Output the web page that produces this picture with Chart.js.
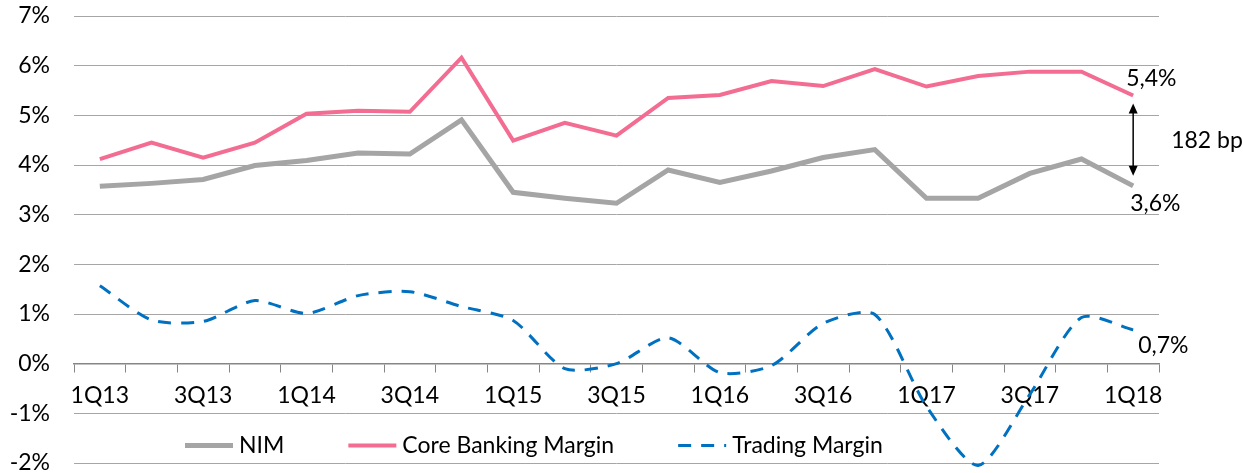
<!DOCTYPE html>
<html>
<head>
<meta charset="utf-8">
<script src="https://cdn.jsdelivr.net/npm/chart.js@4/dist/chart.umd.min.js"></script>
<style>
html, body { margin: 0; padding: 0; background: #fff; }
#wrap { position: relative; width: 1243px; height: 473px; }
</style>
</head>
<body>
<div id="wrap"><canvas id="myChart" width="1243" height="473"></canvas></div>
<script>
var quarters = ['1Q13','2Q13','3Q13','4Q13','1Q14','2Q14','3Q14','4Q14','1Q15','2Q15','3Q15','4Q15',
                '1Q16','2Q16','3Q16','4Q16','1Q17','2Q17','3Q17','4Q17','1Q18'];
var nim = [3.57,3.63,3.71,3.99,4.09,4.24,4.22,4.91,3.45,3.33,3.23,3.90,3.65,3.88,4.15,4.31,3.33,3.33,3.83,4.12,3.58];
var coreBanking = [4.12,4.45,4.15,4.45,5.03,5.09,5.07,6.16,4.49,4.85,4.59,5.35,5.41,5.69,5.59,5.93,5.58,5.79,5.88,5.88,5.40];
var trading = [1.57,0.88,0.85,1.27,1.01,1.37,1.45,1.15,0.87,-0.10,0.00,0.52,-0.18,-0.04,0.81,0.99,-0.86,-2.05,-0.62,0.93,0.68];
var seriesNames = ['NIM', 'Core Banking Margin', 'Trading Margin'];
var endLabels = ['3,6%', '5,4%', '0,7%'];
var spreadLabel = '182 bp';

Chart.defaults.font.family = 'Lato';
Chart.defaults.font.size = 23;
Chart.defaults.color = '#000';

var ctx = document.getElementById('myChart').getContext('2d');

// labels at the series ends, the spread arrow and the legend inside the plot
var extras = {
  id: 'extras',
  afterDraw: function(chart) {
    var c = chart.ctx;
    var xs = chart.scales.x, ys = chart.scales.y;
    var last = quarters.length - 1;
    var px = xs.getPixelForValue(last);
    var pinkY = ys.getPixelForValue(coreBanking[last]);
    var greyY = ys.getPixelForValue(nim[last]);
    var blueY = ys.getPixelForValue(trading[last]);
    c.save();
    c.font = '23px Lato';
    c.fillStyle = '#000';
    c.textBaseline = 'middle';
    c.textAlign = 'left';
    c.fillText(endLabels[1], px - 7, pinkY - 17);
    c.fillText(endLabels[0], px - 3, greyY + 18);
    c.fillText(endLabels[2], px + 5, blueY + 16);
    c.fillText(spreadLabel, px + 38, (pinkY + greyY) / 2);

    // double arrow
    var top = pinkY + 8, bot = greyY - 10;
    c.strokeStyle = '#000';
    c.lineWidth = 1.5;
    c.beginPath();
    c.moveTo(px, top + 8);
    c.lineTo(px, bot - 8);
    c.stroke();
    c.beginPath();
    c.moveTo(px, top); c.lineTo(px - 4.5, top + 10); c.lineTo(px + 4.5, top + 10); c.closePath();
    c.fill();
    c.beginPath();
    c.moveTo(px, bot); c.lineTo(px - 4.5, bot - 10); c.lineTo(px + 4.5, bot - 10); c.closePath();
    c.fill();

    // legend
    var lx = 185, ly = ys.getPixelForValue(-1.65);
    chart.data.datasets.forEach(function(ds) {
      c.save();
      c.strokeStyle = ds.borderColor;
      c.lineWidth = ds.borderWidth;
      c.setLineDash(ds.borderDash || []);
      c.beginPath();
      c.moveTo(lx, ly);
      c.lineTo(lx + 48, ly);
      c.stroke();
      c.restore();
      c.fillText(ds.label, lx + 54, ly);
      lx += 54 + c.measureText(ds.label).width + 64;
    });
    c.restore();
  }
};

var chart = new Chart(ctx, {
  type: 'line',
  data: {
    labels: quarters,
    datasets: [{
      label: seriesNames[0],
      data: nim,
      borderColor: '#A5A5A5',
      borderWidth: 5,
      pointRadius: 0,
      tension: 0
    }, {
      label: seriesNames[1],
      data: coreBanking,
      borderColor: '#F26D91',
      borderWidth: 4,
      pointRadius: 0,
      tension: 0
    }, {
      label: seriesNames[2],
      data: trading,
      borderColor: '#0070C0',
      borderWidth: 3,
      borderDash: [13, 10],
      pointRadius: 0,
      tension: 0.25,
      clip: false
    }]
  },
  options: {
    responsive: false,
    animation: false,
    layout: { padding: { left: 0, right: 84, top: 16, bottom: 10 } },
    plugins: { legend: { display: false }, tooltip: { enabled: false } },
    scales: {
      x: {
        position: { y: 0 },
        offset: true,
        grid: { drawOnChartArea: false, drawTicks: true, tickLength: 8, offset: true, color: '#868686' },
        border: { color: '#868686', width: 1.5 },
        ticks: {
          autoSkip: false,
          maxRotation: 0,
          padding: 10,
          callback: function(val, i) { return i % 2 === 0 ? this.getLabelForValue(val) : ''; }
        },
        afterFit: function(scale) { scale.height = 0; }
      },
      y: {
        min: -2,
        max: 7,
        grid: { color: '#A6A6A6', lineWidth: 1, drawTicks: true, tickLength: 24, tickColor: 'rgba(0,0,0,0)' },
        border: { display: false },
        ticks: {
          stepSize: 1,
          padding: 0,
          font: { lineHeight: 0.8 },
          callback: function(v) { return v + '%'; }
        },
        afterFit: function(scale) { scale.width = 74; }
      }
    }
  },
  plugins: [extras]
});
</script>
</body>
</html>
